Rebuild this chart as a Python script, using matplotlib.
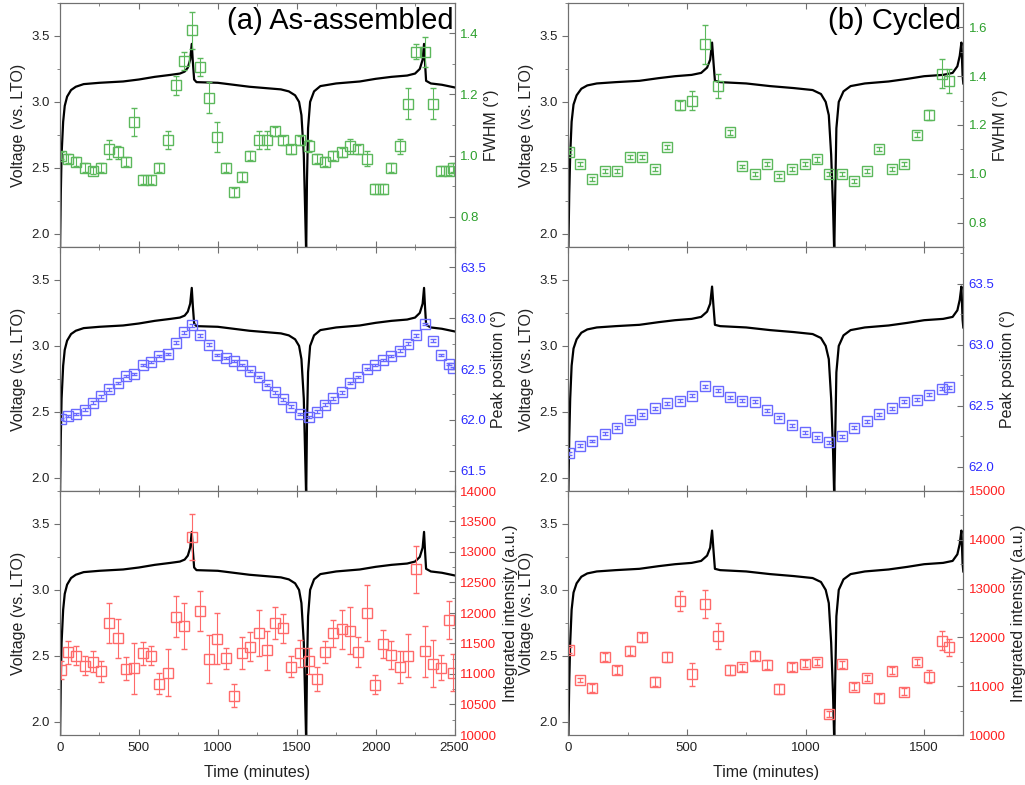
import matplotlib
matplotlib.use("Agg")
from matplotlib import pyplot as plt
from matplotlib.ticker import MultipleLocator

plt.rcParams['font.family'] = ['Liberation Sans', 'DejaVu Sans']

# voltage profile, as-assembled cell
volt_a_t = [0, 5, 10, 20, 30, 45, 70, 100, 150, 250, 400, 500, 600, 700, 760, 790, 810,
            825, 835, 842, 850, 865, 1000, 1100, 1200, 1300, 1400, 1450, 1490, 1515,
            1530, 1545, 1555, 1560, 1565, 1572, 1585, 1610, 1650, 1750, 1900, 2000,
            2100, 2200, 2250, 2280, 2298, 2307, 2313, 2320, 2350, 2420, 2500]
volt_a_v = [1.85, 2.3, 2.6, 2.85, 2.97, 3.04, 3.09, 3.115, 3.135, 3.145, 3.155, 3.17,
            3.19, 3.205, 3.215, 3.23, 3.26, 3.32, 3.44, 3.3, 3.17, 3.15, 3.145, 3.13,
            3.115, 3.105, 3.095, 3.08, 3.05, 3.0, 2.9, 2.6, 2.1, 1.85, 2.4, 2.8, 3.0,
            3.08, 3.12, 3.14, 3.155, 3.175, 3.19, 3.2, 3.215, 3.25, 3.32, 3.44, 3.3,
            3.16, 3.14, 3.13, 3.11]

# voltage profile, cycled cell
volt_b_t = [0, 4, 8, 14, 22, 35, 55, 80, 120, 200, 300, 380, 450, 520, 560, 585, 598,
            606, 612, 618, 640, 750, 850, 950, 1030, 1065, 1085, 1098, 1108, 1116,
            1121, 1125, 1130, 1140, 1160, 1190, 1250, 1350, 1430, 1500, 1580, 1620,
            1640, 1650, 1657, 1662, 1665]
volt_b_v = [1.85, 2.3, 2.6, 2.85, 2.98, 3.05, 3.1, 3.125, 3.14, 3.15, 3.16, 3.18, 3.195,
            3.205, 3.22, 3.26, 3.32, 3.45, 3.3, 3.16, 3.15, 3.14, 3.12, 3.105, 3.09,
            3.06, 3.0, 2.9, 2.6, 2.2, 1.85, 2.3, 2.8, 3.0, 3.08, 3.12, 3.14, 3.155,
            3.175, 3.195, 3.205, 3.22, 3.27, 3.35, 3.45, 3.2, 3.14]

# XRD fits, as-assembled
time_a = [6, 53, 104, 156, 209, 262, 313, 365, 418, 467, 526, 577, 627, 682, 735, 784,
          839, 889, 944, 995, 1050, 1103, 1153, 1206, 1259, 1312, 1362, 1415, 1466,
          1521, 1576, 1629, 1679, 1732, 1785, 1836, 1888, 1943, 1998, 2049, 2100,
          2155, 2205, 2256, 2311, 2362, 2417, 2467, 2488]
fwhm_a = [1.00, 0.99, 0.98, 0.96, 0.95, 0.96, 1.02, 1.01, 0.98, 1.11, 0.92, 0.92, 0.96,
          1.05, 1.23, 1.31, 1.41, 1.29, 1.19, 1.06, 0.96, 0.88, 0.93, 1.00, 1.05, 1.05,
          1.08, 1.05, 1.02, 1.05, 1.03, 0.99, 0.98, 1.00, 1.01, 1.03, 1.02, 0.99, 0.89,
          0.89, 0.96, 1.03, 1.17, 1.34, 1.34, 1.17, 0.95, 0.95, 0.96]
fwhm_a_err = [0.01, 0.015, 0.015, 0.015, 0.012, 0.015, 0.03, 0.02, 0.015, 0.045, 0.015,
              0.015, 0.015, 0.03, 0.03, 0.03, 0.06, 0.03, 0.05, 0.05, 0.015, 0.015,
              0.015, 0.015, 0.03, 0.03, 0.015, 0.015, 0.015, 0.015, 0.02, 0.015, 0.015,
              0.015, 0.015, 0.025, 0.015, 0.025, 0.015, 0.015, 0.015, 0.025, 0.05,
              0.025, 0.05, 0.05, 0.015, 0.015, 0.015]
peak_a = [62.01, 62.04, 62.06, 62.10, 62.17, 62.23, 62.30, 62.36, 62.43, 62.45, 62.54,
          62.57, 62.63, 62.65, 62.76, 62.86, 62.93, 62.83, 62.74, 62.64, 62.61, 62.58,
          62.54, 62.48, 62.42, 62.34, 62.27, 62.20, 62.13, 62.06, 62.03, 62.08, 62.15,
          62.21, 62.27, 62.36, 62.42, 62.50, 62.54, 62.59, 62.63, 62.68, 62.75, 62.83,
          62.94, 62.78, 62.64, 62.55, 62.51]
inten_a = [11066, 11355, 11300, 11137, 11202, 11044, 11841, 11585, 11087, 11093, 11339,
           11300, 10841, 11022, 11940, 11792, 13251, 12033, 11246, 11579, 11257, 10645,
           11344, 11448, 11672, 11393, 11841, 11748, 11120, 11339, 11218, 10918, 11355,
           11667, 11732, 11710, 11361, 12005, 10825, 11486, 11306, 11115, 11300, 12716,
           11371, 11169, 11104, 11885, 11022]
inten_a_err = [150, 190, 160, 160, 170, 170, 330, 320, 190, 420, 190, 160, 170, 390, 340,
               380, 380, 330, 390, 420, 170, 190, 270, 240, 370, 320, 260, 240, 170,
               220, 210, 190, 180, 220, 320, 390, 240, 460, 160, 230, 230, 260, 350,
               390, 420, 390, 210, 310, 300]

# XRD fits, cycled
time_b = [4, 49, 101, 155, 207, 259, 312, 364, 418, 470, 522, 575, 629, 680, 732, 786,
          837, 890, 943, 996, 1048, 1101, 1152, 1206, 1258, 1311, 1363, 1416, 1468,
          1520, 1574, 1605]
fwhm_b = [1.09, 1.04, 0.98, 1.01, 1.01, 1.07, 1.07, 1.02, 1.11, 1.28, 1.30, 1.53, 1.36,
          1.17, 1.03, 1.00, 1.04, 0.99, 1.02, 1.04, 1.06, 1.00, 1.00, 0.97, 1.01, 1.10,
          1.02, 1.04, 1.16, 1.24, 1.41, 1.38]
fwhm_b_err = [0.008, 0.008, 0.008, 0.008, 0.008, 0.008, 0.008, 0.008, 0.008, 0.02, 0.04,
              0.08, 0.05, 0.01, 0.008, 0.008, 0.008, 0.008, 0.008, 0.008, 0.01, 0.008,
              0.008, 0.008, 0.008, 0.008, 0.008, 0.008, 0.01, 0.02, 0.06, 0.05]
peak_b = [62.11, 62.17, 62.21, 62.27, 62.32, 62.38, 62.43, 62.48, 62.52, 62.54, 62.58,
          62.66, 62.62, 62.57, 62.54, 62.53, 62.46, 62.40, 62.34, 62.28, 62.24, 62.20,
          62.25, 62.32, 62.37, 62.43, 62.48, 62.53, 62.55, 62.59, 62.64, 62.65]
inten_b = [11742, 11127, 10956, 11605, 11332, 11728, 12001, 11093, 11592, 12746, 11243,
           12678, 12029, 11325, 11387, 11626, 11441, 10936, 11394, 11462, 11496, 10430,
           11448, 10990, 11175, 10751, 11318, 10888, 11503, 11195, 11933, 11797]
inten_b_err = [60, 50, 80, 80, 80, 90, 90, 90, 100, 200, 230, 290, 260, 100, 70, 90, 90,
               100, 80, 70, 70, 70, 70, 70, 60, 90, 70, 70, 60, 130, 200, 180]

W, H = 1025, 785
fig = plt.figure(figsize=(W / 100, H / 100), dpi=100)

cols = [(60, 454.5), (568.3, 963.3)]
rows = [(3, 247), (247, 491), (491, 735)]
spine_c = '#707070'


def make_panel(col, row, t_v, v_v, xmax, t, y, yerr, mcolor, tcolor, ylim, major, minor,
               rlabel, xlabels):
    x0, x1 = cols[col]
    y0, y1 = rows[row]
    ax = fig.add_axes([x0 / W, 1 - y1 / H, (x1 - x0) / W, (y1 - y0) / H])
    ax.plot(t_v, v_v, color='black', lw=1.6)
    ax.set_xlim(0, xmax)
    ax.set_ylim(1.9, 3.75)
    ax.yaxis.set_major_locator(MultipleLocator(0.5))
    ax.yaxis.set_minor_locator(MultipleLocator(0.25))
    ax.xaxis.set_major_locator(MultipleLocator(500))
    ax.xaxis.set_minor_locator(MultipleLocator(250))
    ax.set_ylabel('Voltage (vs. LTO)', fontsize=11.5, color='#222222')
    ax.tick_params(axis='y', which='both', direction='out', labelsize=9.5,
                   colors=spine_c, labelcolor='#222222')
    ax.tick_params(axis='y', which='major', length=4)
    ax.tick_params(axis='y', which='minor', length=2.5)
    ax.tick_params(axis='x', which='both', direction='in', top=True, labelsize=9.5,
                   colors=spine_c, labelcolor='#222222', labelbottom=xlabels, pad=5)
    ax.tick_params(axis='x', which='major', length=4)
    ax.tick_params(axis='x', which='minor', length=2.5)
    if xlabels:
        ax.set_xlabel('Time (minutes)', fontsize=11.5, color='#222222', labelpad=8)
    for s in ax.spines.values():
        s.set_color(spine_c)

    ax2 = ax.twinx()
    ax2.errorbar(t, y, yerr=yerr, fmt='s', ms=6.5, mfc='none', mec=mcolor, mew=1.0,
                 ecolor=mcolor, elinewidth=0.8, capsize=2.5, capthick=0.8)
    ax2.set_ylim(*ylim)
    ax2.yaxis.set_major_locator(MultipleLocator(major))
    ax2.yaxis.set_minor_locator(MultipleLocator(minor))
    ax2.tick_params(axis='y', which='both', direction='in', labelsize=9.5,
                    colors=spine_c, labelcolor=tcolor, pad=4)
    ax2.tick_params(axis='y', which='major', length=4)
    ax2.tick_params(axis='y', which='minor', length=2.5)
    ax2.set_ylabel(rlabel, fontsize=11.5, color='#222222')
    for s in ax2.spines.values():
        s.set_color(spine_c)
    return ax


green_m, green_t = '#5cb85c', '#2ca02c'
blue_m, blue_t = '#6a6aff', '#2a2aff'
red_m, red_t = '#ff6a6a', '#ff2020'

a1 = make_panel(0, 0, volt_a_t, volt_a_v, 2500, time_a, fwhm_a, fwhm_a_err, green_m,
                green_t, (0.7, 1.5), 0.2, 0.1, 'FWHM (°)', False)
make_panel(0, 1, volt_a_t, volt_a_v, 2500, time_a, peak_a, 0.012, blue_m, blue_t,
           (61.3, 63.7), 0.5, 0.25, 'Peak position (°)', False)
make_panel(0, 2, volt_a_t, volt_a_v, 2500, time_a, inten_a, inten_a_err, red_m, red_t,
           (10000, 14000), 500, 250, 'Integrated intensity (a.u.)', True)

b1 = make_panel(1, 0, volt_b_t, volt_b_v, 1665, time_b, fwhm_b, fwhm_b_err, green_m,
                green_t, (0.7, 1.7), 0.2, 0.1, 'FWHM (°)', False)
make_panel(1, 1, volt_b_t, volt_b_v, 1665, time_b, peak_b, 0.012, blue_m, blue_t,
           (61.8, 63.8), 0.5, 0.25, 'Peak position (°)', False)
make_panel(1, 2, volt_b_t, volt_b_v, 1665, time_b, inten_b, inten_b_err, red_m, red_t,
           (10000, 15000), 1000, 500, 'Integrated intensity (a.u.)', True)

a1.text(0.998, 0.985, '(a) As-assembled', transform=a1.transAxes, ha='right', va='top',
        fontsize=21, zorder=10)
b1.text(0.995, 0.985, '(b) Cycled', transform=b1.transAxes, ha='right', va='top',
        fontsize=21, zorder=10)

fig.savefig('out.png', dpi=100)
